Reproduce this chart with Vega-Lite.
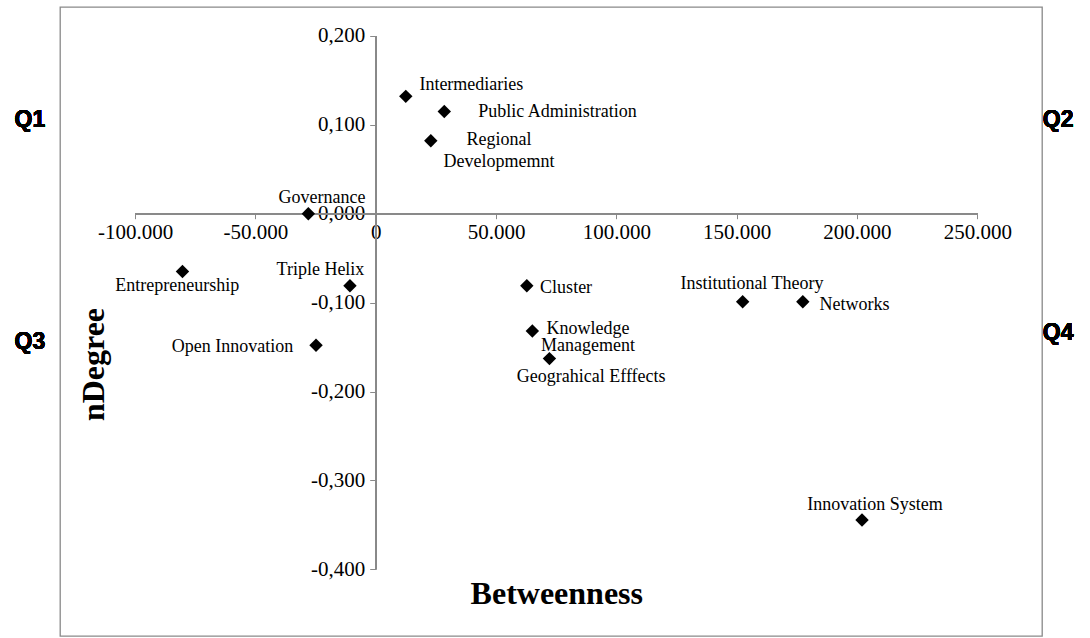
{
  "$schema": "https://vega.github.io/schema/vega-lite/v6.json",
  "width": 982,
  "height": 629,
  "autosize": "none",
  "padding": {"left": 60, "top": 7, "right": 48, "bottom": 2},
  "background": "white",
  "config": {"view": {"stroke": "#898989", "strokeWidth": 1.3}, "font": "Liberation Serif"},
  "data": {
    "values": [
      {"label": "Intermediaries", "betweenness": 12.5, "ndegree": 0.132},
      {"label": "Public Administration", "betweenness": 28.5, "ndegree": 0.115},
      {"label": "Regional Developmemnt", "betweenness": 22.9, "ndegree": 0.082},
      {"label": "Governance", "betweenness": -28.0, "ndegree": 0.0},
      {"label": "Entrepreneurship", "betweenness": -80.3, "ndegree": -0.065},
      {"label": "Triple Helix", "betweenness": -10.7, "ndegree": -0.081},
      {"label": "Open Innovation", "betweenness": -24.8, "ndegree": -0.148},
      {"label": "Cluster", "betweenness": 62.8, "ndegree": -0.081},
      {"label": "Knowledge Management", "betweenness": 65.1, "ndegree": -0.132},
      {"label": "Geograhical Efffects", "betweenness": 72.2, "ndegree": -0.163},
      {"label": "Institutional Theory", "betweenness": 152.5, "ndegree": -0.099},
      {"label": "Networks", "betweenness": 177.5, "ndegree": -0.099},
      {"label": "Innovation System", "betweenness": 202.1, "ndegree": -0.3445}
    ]
  },
  "encoding": {
    "x": {
      "field": "betweenness",
      "type": "quantitative",
      "scale": {"domain": [-131.2, 276.9], "nice": false, "zero": false},
      "axis": {
        "values": [-100, -50, 0, 50, 100, 150, 200, 250],
        "domain": false,
        "grid": false,
        "offset": -422.3,
        "tickColor": "#898989",
        "tickSize": 5,
        "labelFont": "Liberation Serif",
        "labelFontSize": 21,
        "labelColor": "black",
        "labelPadding": 3,
        "labelFlush": false,
        "labelOverlap": false,
        "labelExpr": "datum.value == 0 ? '0' : (datum.value < 0 ? '-' : '') + format(abs(datum.value), '.3f')",
        "title": "Betweenness",
        "titleFont": "Liberation Serif",
        "titleFontSize": 32,
        "titleFontWeight": "bold",
        "titleColor": "black",
        "titleX": 496.3,
        "titleY": 389.6,
        "titleBaseline": "alphabetic",
        "titleAlign": "center"
      }
    },
    "y": {
      "field": "ndegree",
      "type": "quantitative",
      "scale": {"domain": [-0.475, 0.2325], "nice": false, "zero": false},
      "axis": {
        "values": [-0.4, -0.3, -0.2, -0.1, 0, 0.1, 0.2],
        "domain": false,
        "grid": false,
        "offset": -315.7,
        "tickColor": "#898989",
        "tickSize": 6,
        "labelFont": "Liberation Serif",
        "labelFontSize": 21,
        "labelColor": "black",
        "labelPadding": 5,
        "labelFlush": false,
        "labelOverlap": false,
        "labelExpr": "(datum.value < -0.0001 ? '-' : '') + replace(format(abs(datum.value), '.3f'), '.', ',')",
        "title": "nDegree",
        "titleFont": "Liberation Serif",
        "titleFontSize": 32,
        "titleFontWeight": "bold",
        "titleColor": "black",
        "titleAngle": 270,
        "titleX": -272.4,
        "titleY": 357,
        "titleBaseline": "alphabetic",
        "titleAlign": "center"
      }
    }
  },
  "layer": [
    {
      "mark": {"type": "rule", "color": "#898989", "strokeWidth": 1.3},
      "encoding": {"x": {"datum": -100}, "x2": {"datum": 250}, "y": {"datum": 0}}
    },
    {
      "mark": {"type": "rule", "color": "#898989", "strokeWidth": 1.3},
      "encoding": {"y": {"datum": -0.4}, "y2": {"datum": 0.2}, "x": {"datum": 0}}
    },
    {
      "mark": {"type": "point", "shape": "diamond", "filled": true, "color": "black", "size": 180, "opacity": 1}
    },
    {
      "transform": [{"filter": "datum.label === 'Intermediaries'"}],
      "mark": {"type": "text", "fontSize": 18, "align": "left", "baseline": "middle", "dx": 13.6, "dy": -11.7, "color": "black"},
      "encoding": {"text": {"field": "label"}}
    },
    {
      "transform": [{"filter": "datum.label === 'Public Administration'"}],
      "mark": {"type": "text", "fontSize": 18, "align": "left", "baseline": "middle", "dx": 34, "dy": 0.6, "color": "black"},
      "encoding": {"text": {"field": "label"}}
    },
    {
      "transform": [{"filter": "datum.label === 'Regional Developmemnt'"}],
      "mark": {"type": "text", "fontSize": 18, "align": "center", "baseline": "top", "lineBreak": " ", "lineHeight": 21.7, "dx": 68.3, "dy": -9.8, "color": "black"},
      "encoding": {"text": {"field": "label"}}
    },
    {
      "transform": [{"filter": "datum.label === 'Governance'"}],
      "mark": {"type": "text", "fontSize": 18, "align": "center", "baseline": "middle", "dx": 13.7, "dy": -15.7, "color": "black"},
      "encoding": {"text": {"field": "label"}}
    },
    {
      "transform": [{"filter": "datum.label === 'Entrepreneurship'"}],
      "mark": {"type": "text", "fontSize": 18, "align": "center", "baseline": "middle", "dx": -5.2, "dy": 15, "color": "black"},
      "encoding": {"text": {"field": "label"}}
    },
    {
      "transform": [{"filter": "datum.label === 'Triple Helix'"}],
      "mark": {"type": "text", "fontSize": 18, "align": "center", "baseline": "middle", "dx": -29.5, "dy": -15.3, "color": "black"},
      "encoding": {"text": {"field": "label"}}
    },
    {
      "transform": [{"filter": "datum.label === 'Open Innovation'"}],
      "mark": {"type": "text", "fontSize": 18, "align": "right", "baseline": "middle", "dx": -22.7, "dy": 1.7, "color": "black"},
      "encoding": {"text": {"field": "label"}}
    },
    {
      "transform": [{"filter": "datum.label === 'Cluster'"}],
      "mark": {"type": "text", "fontSize": 18, "align": "left", "baseline": "middle", "dx": 13.3, "dy": 2.6, "color": "black"},
      "encoding": {"text": {"field": "label"}}
    },
    {
      "transform": [{"filter": "datum.label === 'Knowledge Management'"}],
      "mark": {"type": "text", "fontSize": 18, "align": "center", "baseline": "top", "lineBreak": " ", "lineHeight": 16.5, "dx": 55.7, "dy": -11, "color": "black"},
      "encoding": {"text": {"field": "label"}}
    },
    {
      "transform": [{"filter": "datum.label === 'Geograhical Efffects'"}],
      "mark": {"type": "text", "fontSize": 18, "align": "center", "baseline": "middle", "dx": 41.7, "dy": 18.4, "color": "black"},
      "encoding": {"text": {"field": "label"}}
    },
    {
      "transform": [{"filter": "datum.label === 'Institutional Theory'"}],
      "mark": {"type": "text", "fontSize": 18, "align": "center", "baseline": "middle", "dx": 9.3, "dy": -17.7, "color": "black"},
      "encoding": {"text": {"field": "label"}}
    },
    {
      "transform": [{"filter": "datum.label === 'Networks'"}],
      "mark": {"type": "text", "fontSize": 18, "align": "left", "baseline": "middle", "dx": 16.6, "dy": 3.3, "color": "black"},
      "encoding": {"text": {"field": "label"}}
    },
    {
      "transform": [{"filter": "datum.label === 'Innovation System'"}],
      "mark": {"type": "text", "fontSize": 18, "align": "center", "baseline": "middle", "dx": 13, "dy": -15, "color": "black"},
      "encoding": {"text": {"field": "label"}}
    },
    {
      "mark": {"type": "text", "font": "Liberation Sans", "fontWeight": "bold", "fontSize": 23, "align": "center", "baseline": "middle", "color": "black"},
      "encoding": {"x": {"datum": -143.7}, "y": {"datum": 0.1054}, "text": {"value": "Q1"}}
    },
    {
      "mark": {"type": "text", "font": "Liberation Sans", "fontWeight": "bold", "fontSize": 23, "align": "center", "baseline": "middle", "color": "black"},
      "encoding": {"x": {"datum": 283.6}, "y": {"datum": 0.1054}, "text": {"value": "Q2"}}
    },
    {
      "mark": {"type": "text", "font": "Liberation Sans", "fontWeight": "bold", "fontSize": 23, "align": "center", "baseline": "middle", "color": "black"},
      "encoding": {"x": {"datum": -143.7}, "y": {"datum": -0.1443}, "text": {"value": "Q3"}}
    },
    {
      "mark": {"type": "text", "font": "Liberation Sans", "fontWeight": "bold", "fontSize": 23, "align": "center", "baseline": "middle", "color": "black"},
      "encoding": {"x": {"datum": 283.6}, "y": {"datum": -0.134}, "text": {"value": "Q4"}}
    }
  ]
}
